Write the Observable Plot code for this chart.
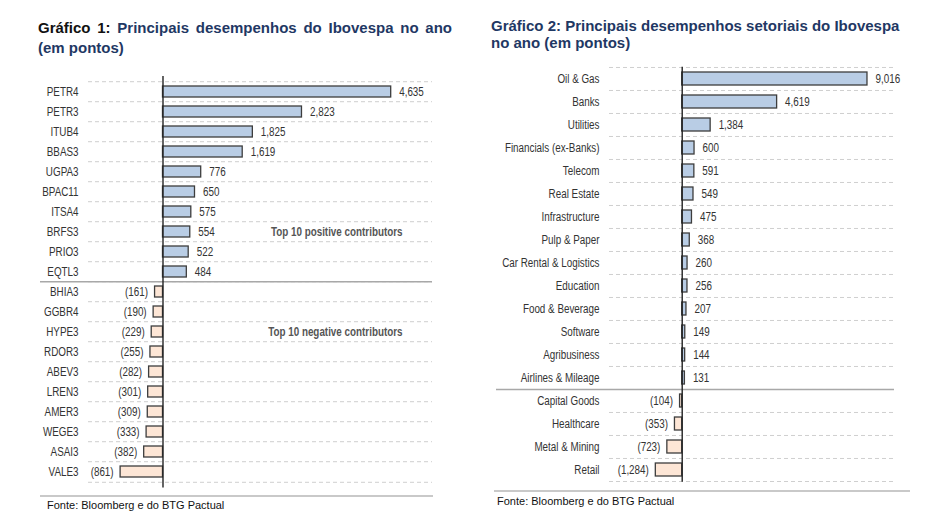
<!DOCTYPE html>
<html>
<head>
<meta charset="utf-8">
<script src="https://cdn.jsdelivr.net/npm/d3@7"></script>
<script src="https://cdn.jsdelivr.net/npm/@observablehq/plot@0.6"></script>
<style>
  html, body { margin: 0; padding: 0; background: #fff; }
  #page { position: relative; width: 948px; height: 527px; overflow: hidden; font-family: "Liberation Sans", Arial, sans-serif; }
  .fig { position: absolute; top: 0; }
  .fig svg { display: block; }
  .title { position: absolute; font-weight: bold; font-size: 15px; color: #1f3864; white-space: nowrap; }
  .title .k { color: #111; }
  .rule { position: absolute; height: 2px; background: #c9c9c9; }
  .src { position: absolute; font-size: 11px; line-height: 13px; color: #111; }
</style>
</head>
<body>
<div id="page">
  <div class="title" style="left:38px; top:18px; width:414px; line-height:20px; text-align:justify; text-align-last:justify;"><span class="k">Gráfico 1:</span> <span>Principais</span> <span>desempenhos</span> <span>do</span> <span>Ibovespa</span> <span>no</span> <span>ano</span></div>
  <div class="title" style="left:38px; top:38px; line-height:20px;">(em pontos)</div>
  <div class="title" style="left:491px; top:17px; line-height:17px;">Gráfico 2: Principais desempenhos setoriais do Ibovespa</div>
  <div class="title" style="left:491px; top:34px; line-height:17px;">no ano (em pontos)</div>
  <div class="fig" id="f1" style="left:0px;"></div>
  <div class="fig" id="f2" style="left:480px;"></div>
  <div class="rule" style="left:40px; top:495px; width:393px;"></div>
  <div class="rule" style="left:494px; top:490px; width:416px;"></div>
  <div class="src" style="left:47px; top:499px;">Fonte: Bloomberg e do BTG Pactual</div>
  <div class="src" style="left:497px; top:495px;">Fonte: Bloomberg e do BTG Pactual</div>
</div>
<script>
// ---- Data ----
const stocks = ["PETR4","PETR3","ITUB4","BBAS3","UGPA3","BPAC11","ITSA4","BRFS3","PRIO3","EQTL3",
                "BHIA3","GGBR4","HYPE3","RDOR3","ABEV3","LREN3","AMER3","WEGE3","ASAI3","VALE3"];
const stockValues = [4635, 2823, 1825, 1619, 776, 650, 575, 554, 522, 484,
                     -161, -190, -229, -255, -282, -301, -309, -333, -382, -861];
const stockAnnotations = ["Top 10 positive contributors", "Top 10 negative contributors"];
const stockAnnotationRows = ["BRFS3", "HYPE3"];

const sectors = ["Oil & Gas","Banks","Utilities","Financials (ex-Banks)","Telecom","Real Estate",
                 "Infrastructure","Pulp & Paper","Car Rental & Logistics","Education","Food & Beverage",
                 "Software","Agribusiness","Airlines & Mileage","Capital Goods","Healthcare",
                 "Metal & Mining","Retail"];
const sectorValues = [9016, 4619, 1384, 600, 591, 549, 475, 368, 260, 256, 207, 149, 144, 131,
                      -104, -353, -723, -1284];

// ---- Helpers ----
const fmt = v => v < 0 ? `(${d3.format(",")(-v)})` : d3.format(",")(v);
const BLUE = "#b9cde5", PEACH = "#fde6d6", EDGE = "#3d3d3d";
const LABEL_FONT = `"Liberation Sans", Arial, sans-serif`;
const NARROW = 0.82; // emulate a narrow face by squeezing glyphs

function makeChart({cats, vals, W, H, mt, mb, ml, mr, xDomain, pad, sepX1, notes = [], noteRows = [], noteDx = 0}) {
  const n = cats.length;
  const step = (H - mt - mb) / n;
  const rows = cats.map((c, i) => ({name: c, value: vals[i]}));
  const firstNeg = rows.findIndex(d => d.value < 0);
  const notesData = notes.map((t, i) => ({label: t, row: noteRows[i]}));
  const grid = {stroke: "#cfcfcf", strokeWidth: 1, strokeDasharray: "4,3"};
  return Plot.plot({
    width: W, height: H,
    marginTop: mt, marginBottom: mb, marginLeft: ml, marginRight: mr,
    style: {fontFamily: LABEL_FONT, fontSize: "12px", color: "#333", background: "transparent", overflow: "visible"},
    x: {domain: xDomain, axis: null},
    y: {domain: cats, paddingInner: pad, paddingOuter: pad / 2, align: 0.5, tickSize: 0, tickPadding: 10, label: null},
    marks: [
      Plot.ruleY(cats, {y: d => d, dy: -step / 2, ...grid}),
      Plot.ruleY([cats[n - 1]], {y: d => d, dy: step / 2, ...grid}),
      (index, scales, values, dims) => {
        const y = dims.marginTop + firstNeg * step;
        return d3.create("svg:line")
          .attr("x1", sepX1).attr("x2", dims.width - dims.marginRight)
          .attr("y1", y).attr("y2", y)
          .attr("stroke", "#a8a8a8").attr("stroke-width", 1.6).node();
      },
      Plot.barX(rows, {x: "value", y: "name", fill: d => d.value >= 0 ? BLUE : PEACH, stroke: EDGE, strokeWidth: 1.3}),
      Plot.ruleX([0], {stroke: "#222", strokeWidth: 1.4}),
      Plot.text(rows.filter(d => d.value >= 0), {x: "value", y: "name", text: d => fmt(d.value), textAnchor: "start", dx: 8, fill: "#333"}),
      Plot.text(rows.filter(d => d.value < 0), {x: "value", y: "name", text: d => fmt(d.value), textAnchor: "end", dx: -7, fill: "#333"}),
      Plot.text(notesData, {y: "row", text: "label", frameAnchor: "right", textAnchor: "end", dx: noteDx, fontWeight: "bold", fill: "#555"})
    ]
  });
}

function squeeze(svg) {
  svg.querySelectorAll("text").forEach(t => {
    const len = t.getComputedTextLength();
    if (len > 0) {
      t.setAttribute("textLength", (len * NARROW).toFixed(2));
      t.setAttribute("lengthAdjust", "spacingAndGlyphs");
    }
  });
}

const c1 = makeChart({
  cats: stocks, vals: stockValues,
  W: 470, H: 527, mt: 76, mb: 39.6, ml: 88, mr: 38,
  xDomain: [-1513, 5474], pad: 0.44, sepX1: 40,
  notes: stockAnnotations, noteRows: stockAnnotationRows, noteDx: -30
});
document.getElementById("f1").appendChild(c1);
squeeze(c1);

const c2 = makeChart({
  cats: sectors, vals: sectorValues,
  W: 468, H: 527, mt: 66.7, mb: 45.3, ml: 129, mr: 54,
  xDomain: [-3538, 10331], pad: 0.42, sepX1: 16
});
document.getElementById("f2").appendChild(c2);
squeeze(c2);
</script>
</body>
</html>
